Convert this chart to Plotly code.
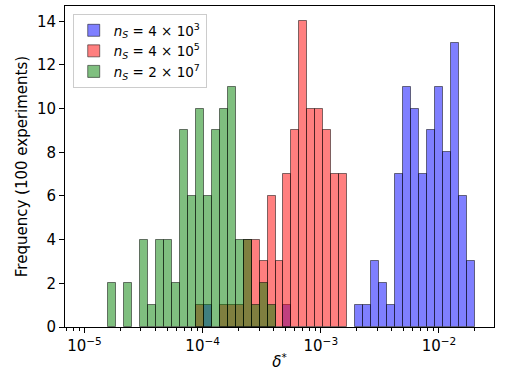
import numpy as np
import plotly.graph_objects as go

# Shared log-spaced histogram bins (49 bins from 1e-5 to 2e-2)
bin_lo = 1e-5
bin_hi = 2e-2
n_bins = 49

# Counts per bin (index 0 .. 48)
counts_4e3 = [0]*49
counts_4e5 = [0]*49
counts_2e7 = [0]*49

blue_vals = {15: 1, 25: 1, 34: 1, 35: 1, 36: 3, 37: 2, 38: 1, 39: 7, 40: 11, 41: 10,
             42: 7, 43: 9, 44: 11, 45: 8, 46: 13, 47: 6, 48: 3}
red_vals = {14: 1, 17: 1, 18: 1, 19: 1, 20: 4, 21: 4, 22: 3, 23: 6, 24: 3, 25: 7,
            26: 9, 27: 14, 28: 10, 29: 10, 30: 9, 31: 7, 32: 7}
green_vals = {3: 2, 5: 2, 7: 4, 8: 1, 9: 4, 10: 4, 11: 2, 12: 9, 13: 6, 14: 10, 15: 6,
              16: 9, 17: 10, 18: 11, 19: 4, 20: 4, 21: 1, 22: 2, 23: 1}
for k, v in blue_vals.items():
    counts_4e3[k] = v
for k, v in red_vals.items():
    counts_4e5[k] = v
for k, v in green_vals.items():
    counts_2e7[k] = v

series_names = ["<i>n</i><sub><i>S</i></sub> = 4 × 10<sup>3</sup>",
                "<i>n</i><sub><i>S</i></sub> = 4 × 10<sup>5</sup>",
                "<i>n</i><sub><i>S</i></sub> = 2 × 10<sup>7</sup>"]
series_counts = [counts_4e3, counts_4e5, counts_2e7]
series_colors = ["rgba(0,0,255,0.5)", "rgba(255,0,0,0.5)", "rgba(0,128,0,0.5)"]

tick_exps = [-5, -4, -3, -2]
tick_labels = ["10<sup>−5</sup>", "10<sup>−4</sup>", "10<sup>−3</sup>", "10<sup>−2</sup>"]
y_ticks = [0, 2, 4, 6, 8, 10, 12, 14]

edges_log = np.linspace(np.log10(bin_lo), np.log10(bin_hi), n_bins + 1)
bw = edges_log[1] - edges_log[0]
lefts = edges_log[:-1]

fig = go.Figure()
for name, cnt, col in zip(series_names, series_counts, series_colors):
    cnt = np.array(cnt)
    m = cnt > 0
    fig.add_trace(go.Bar(
        x=lefts[m], y=cnt[m], width=bw, offset=0, name=name,
        marker=dict(color=col, line=dict(color="rgba(0,0,0,0.5)", width=1)),
    ))

span = edges_log[-1] - edges_log[0]
xr = [edges_log[0] - 0.05 * span, edges_log[-1] + 0.05 * span]

minor_vals = []
for e in range(-6, -1):
    for mlt in range(2, 10):
        v = np.log10(mlt * 10.0 ** e)
        if xr[0] <= v <= xr[1]:
            minor_vals.append(v)

font = "DejaVu Sans"
fig.update_layout(
    width=508, height=378,
    margin=dict(l=65, r=14, t=6, b=51, autoexpand=False),
    paper_bgcolor="white", plot_bgcolor="white",
    barmode="overlay", bargap=0,
    font=dict(family=font, size=15, color="black"),
    showlegend=True,
    legend=dict(x=0.018, y=0.975, xanchor="left", yanchor="top",
                bgcolor="rgba(255,255,255,0.8)", bordercolor="#cccccc", borderwidth=1,
                font=dict(size=13.5, family=font), traceorder="normal",
                itemwidth=30, tracegroupgap=2),
    xaxis=dict(
        range=xr, tickmode="array", tickvals=tick_exps, ticktext=tick_labels,
        showgrid=False, zeroline=False, showline=True, linecolor="black", linewidth=1,
        mirror=True, ticks="outside", ticklen=5, tickcolor="black", automargin=False,
        minor=dict(tickmode="array", tickvals=minor_vals, ticks="outside", ticklen=3,
                   tickcolor="black", showgrid=False),
        title=dict(text="<i>δ</i><sup>*</sup>", font=dict(size=15), standoff=2),
    ),
    yaxis=dict(
        range=[0, 14.7], tickmode="array", tickvals=y_ticks,
        showgrid=False, zeroline=False, showline=True, linecolor="black", linewidth=1,
        mirror=True, ticks="outside", ticklen=5, tickcolor="black", automargin=False,
        title=dict(text="Frequency (100 experiments)", font=dict(size=15), standoff=5),
    ),
)

fig.write_html("out.html", config={"displayModeBar": False},
               post_script="document.body.style.margin='0px';document.body.style.overflow='hidden';")
